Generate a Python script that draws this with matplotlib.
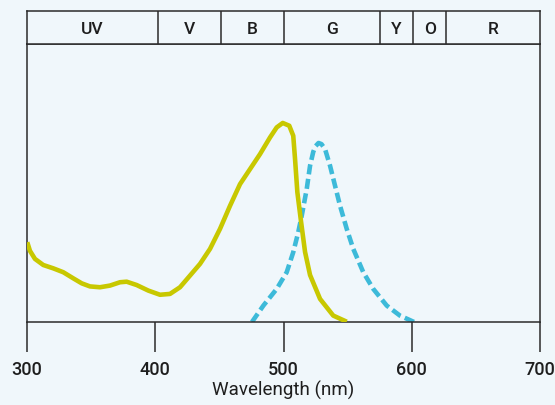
import numpy as np
import matplotlib.pyplot as plt

# absorption (solid) curve, wavelength in nm vs relative intensity
abs_nm = [300.2, 302.3, 306.2, 312.7, 320.5, 328.3, 336.1, 342.7, 349.1, 356.9,
          364.7, 372.5, 377.7, 385.5, 394.6, 403.7, 411.5, 419.3, 427.1, 434.9,
          442.7, 450.5, 458.3, 466.1, 473.9, 481.7, 489.5, 494.7, 499.4, 504.5,
          507.6, 509.0, 510.8, 513.4, 516.8, 520.7, 528.5, 538.8, 549.3]
abs_val = [0.287, 0.256, 0.227, 0.205, 0.193, 0.179, 0.157, 0.139, 0.128, 0.125,
           0.131, 0.143, 0.145, 0.133, 0.113, 0.098, 0.101, 0.125, 0.167, 0.209,
           0.263, 0.335, 0.418, 0.496, 0.550, 0.604, 0.664, 0.700, 0.716, 0.706,
           0.670, 0.586, 0.467, 0.371, 0.252, 0.169, 0.083, 0.023, 0.001]

# emission (dashed) curve
em_nm = [475.4, 484.3, 494.7, 502.5, 507.6, 511.5, 514.2, 518.1, 520.7, 523.2,
         524.9, 527.3, 529.6, 532.4, 536.3, 540.2, 544.1, 549.3, 554.4, 562.2,
         570.0, 580.5, 590.8, 601.8]
em_val = [0.0, 0.059, 0.119, 0.179, 0.251, 0.323, 0.382, 0.478, 0.562, 0.612,
          0.632, 0.644, 0.640, 0.622, 0.562, 0.490, 0.418, 0.335, 0.263, 0.179,
          0.119, 0.059, 0.023, 0.0]

# colour bands on top
band_edges = [300, 402, 451, 500, 575, 601, 627, 700]
band_labels = ["UV", "V", "B", "G", "Y", "O", "R"]

x_ticks = [300, 400, 500, 600, 700]

bg = "#f0f7fb"
ink = "#2b2b2b"
txt = "#1e1e1e"
plt.rcParams['font.family'] = ['Roboto', 'Liberation Sans', 'DejaVu Sans']

W, H = 555, 406
fig = plt.figure(figsize=(W / 100, H / 100), dpi=100, facecolor=bg)

def px_axes(x0, y0, x1, y1):
    return fig.add_axes([x0 / W, 1 - y1 / H, (x1 - x0) / W, (y1 - y0) / H])

# main plot
ax = px_axes(27, 45, 540, 323)
ax.set_facecolor(bg)
ax.plot(abs_nm, abs_val, color="#c8c800", lw=3.3, solid_joinstyle="round",
        solid_capstyle="butt", zorder=3)
ax.plot(em_nm, em_val, color="#3dbad9", lw=3.3, dashes=(2.2, 1.0), zorder=2)
ax.set_xlim(300, 700)
ax.set_ylim(0, 1)
ax.set_yticks([])
ax.set_xticks(x_ticks)
ax.tick_params(axis="x", length=21.6, width=1.1, color=ink, pad=6,
               labelsize=13, labelcolor=txt)
for lab in ax.get_xticklabels():
    lab.set_fontweight("medium")
ax.set_xlabel("Wavelength (nm)", fontsize=13.5, color=txt, labelpad=1)
for side in ["left", "right", "bottom", "top"]:
    ax.spines[side].set_color(ink)
    ax.spines[side].set_linewidth(1.1)

# band strip
bx = px_axes(27, 12, 540, 45)
bx.set_facecolor(bg)
bx.set_xlim(300, 700)
bx.set_ylim(0, 1)
bx.set_xticks([])
bx.set_yticks([])
for side in ["left", "right", "bottom", "top"]:
    bx.spines[side].set_color(ink)
    bx.spines[side].set_linewidth(1.1)
for e in band_edges[1:-1]:
    bx.axvline(e, color=ink, lw=1.1)
for i, lab in enumerate(band_labels):
    mid = (band_edges[i] + band_edges[i + 1]) / 2
    bx.text(mid, 0.47, lab, ha="center", va="center", fontsize=12.5,
            fontweight="medium", color=txt)

fig.savefig("out.png", dpi=100, facecolor=bg)
